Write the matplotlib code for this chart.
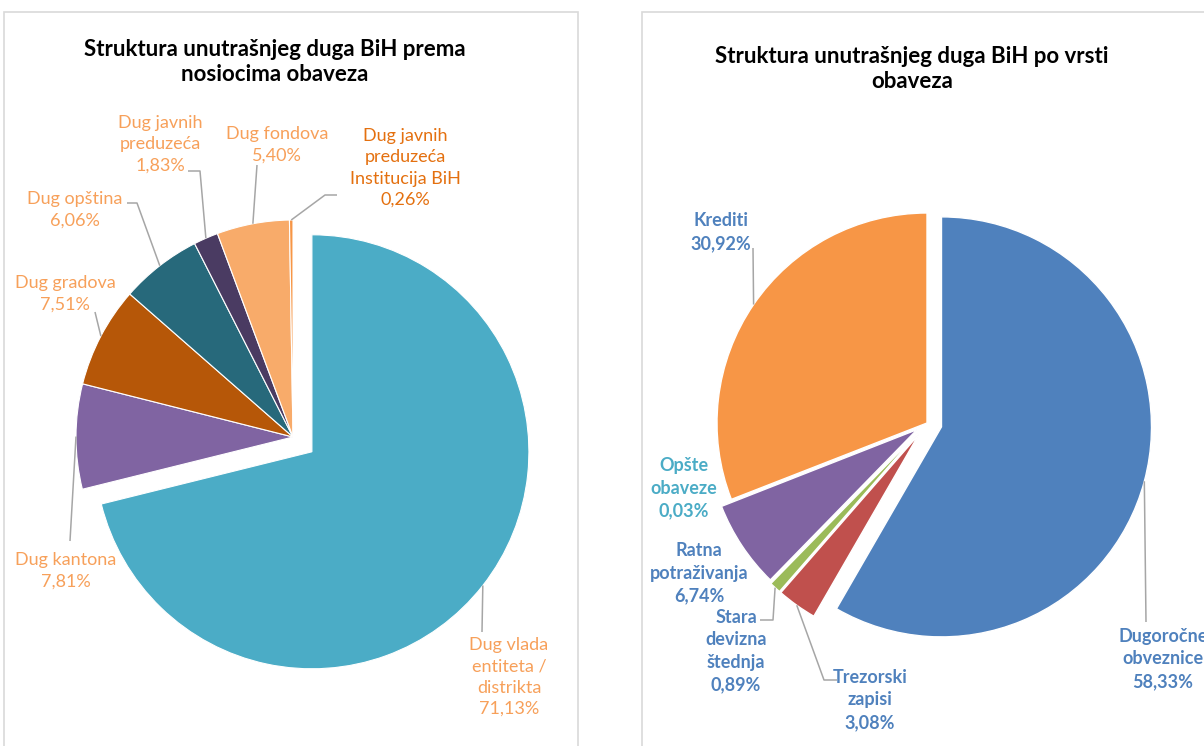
import numpy as np
import matplotlib.pyplot as plt
from matplotlib.patches import Rectangle

plt.rcParams['font.family'] = ['Lato', 'DejaVu Sans']

H = 746  # picture height in px, y is flipped below

# --- left chart data
left_names = ['Dug vlada\nentiteta /\ndistrikta', 'Dug kantona', 'Dug gradova', 'Dug opština',
              'Dug javnih\npreduzeća', 'Dug fondova', 'Dug javnih\npreduzeća\nInstitucija BiH']
left_vals = [71.13, 7.81, 7.51, 6.06, 1.83, 5.40, 0.26]
left_colors = ['#4BACC6', '#8064A2', '#B65708', '#27697B', '#4A3B62', '#F8AB6A', '#F79646']
left_txt = ['#F7A05A'] * 6 + ['#E4700F']

# --- right chart data
right_names = ['Dugoročne\nobveznice', 'Trezorski\nzapisi', 'Stara\ndevizna\nštednja',
               'Ratna\npotraživanja', 'Opšte\nobaveze', 'Krediti']
right_vals = [58.33, 3.08, 0.89, 6.74, 0.03, 30.92]
right_colors = ['#4F81BD', '#C0504D', '#9BBB59', '#8064A2', '#4BACC6', '#F79646']
right_txt = ['#4F81BD'] * 4 + ['#4BACC6', '#4F81BD']


def pct(v):
    return ('%.2f' % v).replace('.', ',') + '%'


fig = plt.figure(figsize=(12.04, 7.46), dpi=100)
ax = fig.add_axes([0, 0, 1, 1])

# panel frames
ax.add_patch(Rectangle((4, -10), 574, H - 12 + 10, fill=False, ec='#D9D9D9', lw=1.2))
ax.add_patch(Rectangle((642, -10), 600, H - 12 + 10, fill=False, ec='#D9D9D9', lw=1.2))

wl, _ = ax.pie(left_vals, colors=left_colors, startangle=90, counterclock=False,
               center=(293, H - 437), radius=217, explode=[24, 0, 0, 0, 0, 0, 0],
               wedgeprops=dict(edgecolor='white', linewidth=0.8))
wr, _ = ax.pie(right_vals, colors=right_colors, startangle=90, counterclock=False,
               center=(927, H - 423), radius=210, explode=[15, 14, 14, 12, 0, 0],
               wedgeprops=dict(edgecolor='white', linewidth=1.0))

ax.set_xlim(0, 1204)
ax.set_ylim(0, H)
ax.axis('off')

# label blocks (center px) and leader line points (px), anchors come from the wedges
left_pos = [(509, 677), (66, 571), (65, 294), (75, 210), (160, 144), (277, 145), (405, 168)]
left_lead = [[(482, 632)], [(70, 541)], [(95, 312)], [(137, 203), (127, 203)],
             [(200, 171), (188, 171)], [(257, 165)], [(325, 195), (337, 195)]]
right_pos = [(1163, 659), (870, 700), (736, 651), (699, 573), (684, 488), (721, 232)]
right_lead = [[(1146, 622)], [(824, 680), (837, 680)], [(773, 620), (760, 620)],
              None, None, [(753, 248)]]


def leader(w, pts):
    a = np.deg2rad((w.theta1 + w.theta2) / 2)
    x0 = w.center[0] + w.r * np.cos(a)
    y0 = w.center[1] + w.r * np.sin(a)
    xs = [x0] + [p[0] for p in pts]
    ys = [y0] + [H - p[1] for p in pts]
    ax.plot(xs, ys, color='#A6A6A6', lw=1.1, solid_capstyle='butt')


for w, name, v, (x, y), c, ld in zip(wl, left_names, left_vals, left_pos, left_txt, left_lead):
    leader(w, ld)
    ax.text(x, H - y, name + '\n' + pct(v), ha='center', va='center', color=c,
            fontsize=13, linespacing=1.4)

for w, name, v, (x, y), c, ld in zip(wr, right_names, right_vals, right_pos, right_txt, right_lead):
    if ld:
        leader(w, ld)
    ax.text(x, H - y, name + '\n' + pct(v), ha='center', va='center', color=c,
            fontsize=13, fontweight='bold', linespacing=1.4)

ax.text(275, H - 62, 'Struktura unutrašnjeg duga BiH prema\nnosiocima obaveza', ha='center',
        va='center', fontsize=16, fontweight='bold', color='black', linespacing=1.27)
ax.text(912, H - 69, 'Struktura unutrašnjeg duga BiH po vrsti\nobaveza', ha='center',
        va='center', fontsize=16, fontweight='bold', color='black', linespacing=1.27)

fig.savefig('out.png', dpi=100)
